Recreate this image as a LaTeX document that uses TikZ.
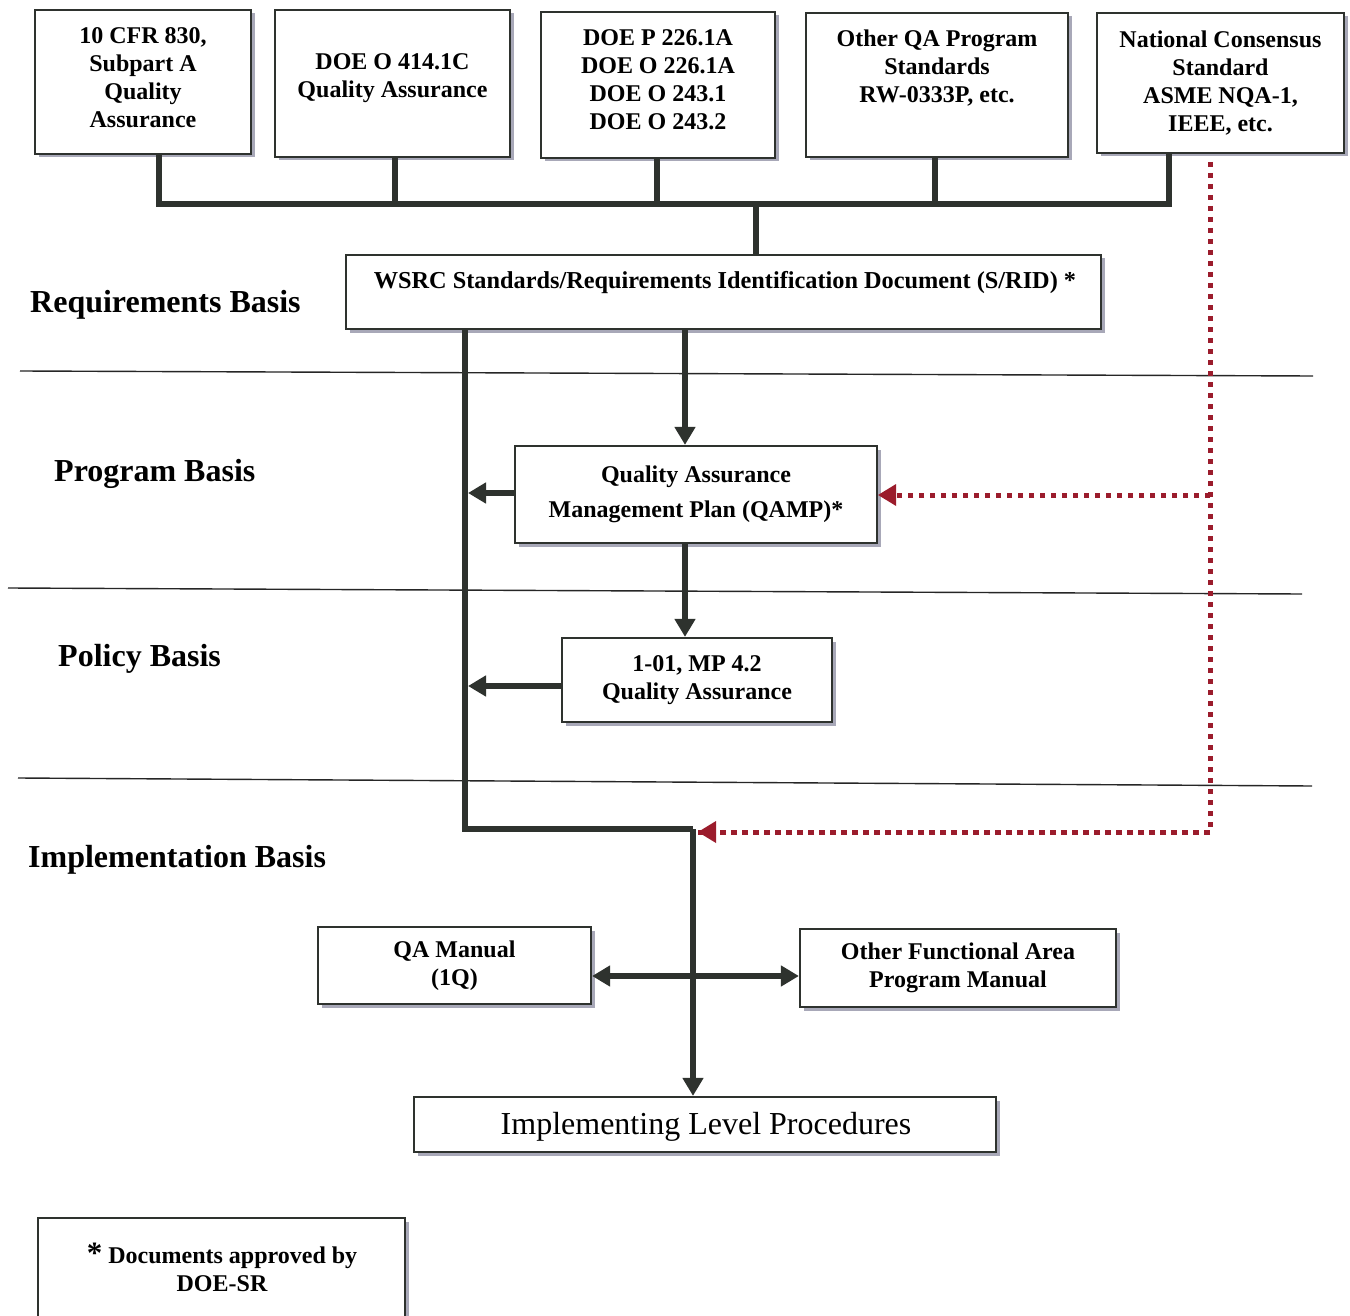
\documentclass[tikz,border=0pt]{standalone}
\usepackage{fontspec}
\setmainfont{Liberation Serif}
\usetikzlibrary{arrows.meta,shadows}
\definecolor{ln}{HTML}{2E322E}
\definecolor{dred}{HTML}{9B1C2C}
\definecolor{shd}{HTML}{A8A8B8}
\tikzset{
  box/.style={draw=ln, line width=2.2pt, fill=white, inner sep=0pt, align=center,
    font=\fontsize{24}{28}\selectfont\bfseries,
    drop shadow={shadow xshift=3.5pt, shadow yshift=-3.5pt, fill=shd, opacity=1}},
  txt/.style={inner sep=0pt, align=center, font=\fontsize{24}{28}\selectfont\bfseries},
  sect/.style={anchor=west, inner sep=0pt, font=\fontsize{32}{36}\selectfont\bfseries},
  wire/.style={draw=ln, line width=6pt, line join=miter},
  arr/.style={wire, -{Triangle[length=18pt,width=20pt]}},
  darr/.style={wire, {Triangle[length=18pt,width=20pt]}-{Triangle[length=18pt,width=20pt]}},
  sep/.style={draw=black!85, line width=1.4pt},
  rdot/.style={draw=dred, line width=5pt, dash pattern=on 5pt off 6pt},
  rarr/.style={rdot, -{Triangle[length=18pt,width=22pt,fill=dred,line width=0pt]}},
}
\begin{document}
\begin{tikzpicture}[x=1pt,y=-1pt]
\useasboundingbox (0,0) rectangle (1350,1316);
\fill[white] (0,0) rectangle (1350,1316);

% top row boxes
\node[box, minimum width=216, minimum height=144] (b1) at (143,82) {};
\node[txt] (t1) at (143,78) {10 CFR 830,\\Subpart A\\Quality\\Assurance};
\node[box, minimum width=235, minimum height=147] (b2) at (392.5,83.5) {};
\node[txt] (t2) at (392.5,78) {DOE O 414.1C\\Quality Assurance};
\node[box, minimum width=234, minimum height=146] (b3) at (658,85) {};
\node[txt] (t3) at (658,79.5) {DOE P 226.1A\\DOE O 226.1A\\DOE O 243.1\\DOE O 243.2};
\node[box, minimum width=262, minimum height=144] (b4) at (937,85) {};
\node[txt] (t4) at (937,68) {Other QA Program\\Standards\\RW-0333P, etc.};
\node[box, minimum width=247, minimum height=140] (b5) at (1220.5,83) {};
\node[txt] (t5) at (1220.5,83) {National Consensus\\Standard\\ASME NQA-1,\\IEEE, etc.};

% S/RID
\node[box, minimum width=755, minimum height=74] (srid) at (723.5,292) {};
\node[txt, font=\fontsize{24.3}{28}\selectfont\bfseries] (tsrid) at (725,283) {WSRC Standards/Requirements Identification Document (S/RID) *};

% QAMP and policy
\node[box, minimum width=362, minimum height=97, font=\fontsize{24}{35}\selectfont\bfseries] (qamp) at (696,494.5) {Quality Assurance\\Management Plan (QAMP)*};
\node[box, minimum width=270, minimum height=84] (pol) at (697,680) {1-01, MP 4.2\\Quality Assurance};

% lower boxes
\node[box, minimum width=273, minimum height=77] (qam) at (454.5,965.5) {QA Manual\\(1Q)};
\node[box, minimum width=316, minimum height=78] (ofa) at (958,968) {Other Functional Area\\Program Manual};
\node[box, minimum width=582, minimum height=55] (impl) at (705,1124.5) {};
\node[inner sep=0pt, font=\fontsize{32}{36}\selectfont] (timpl) at (706,1127) {Implementing Level Procedures};
\node[box, minimum width=367, minimum height=100] (note) at (221.5,1268) {};
\node[txt] (tnote) at (222,1267) {{\fontsize{31}{28}\selectfont *} Documents approved by\\DOE-SR};

% section labels
\node[sect] (lreq) at (30,305) {Requirements Basis};
\node[sect] (lprog) at (54,474) {Program Basis};
\node[sect] (lpol) at (58,659) {Policy Basis};
\node[sect] (limp) at (28,860) {Implementation Basis};

% separators
\draw[sep] (20,371) -- (1313,376);
\draw[sep] (8,588) -- (1302,594);
\draw[sep] (18,778) -- (1312,786);

% bus
\coordinate (s1) at (159,204);
\coordinate (s2) at (395,204);
\coordinate (s3) at (657,204);
\coordinate (s4) at (935,204);
\coordinate (s5) at (1169,204);
\coordinate (sm) at (756,204);
\draw[wire] (b1.south -| s1) -- (s1) -- (s5) -- (b5.south -| s5);
\draw[wire] (b2.south -| s2) -- (s2);
\draw[wire] (b3.south -| s3) -- (s3);
\draw[wire] (b4.south -| s4) -- (s4);
\draw[wire] (sm) -- (srid.north -| sm);

% main spine
\coordinate (L) at (465,829);
\coordinate (J) at (693,829);
\coordinate (ax) at (685,0);
\draw[wire] (srid.south -| L) -- (L) -- (J);
\draw[arr] (J) -- (impl.north -| J);
\draw[arr] (srid.south -| ax) -- (qamp.north -| ax);
\draw[arr] (qamp.south -| ax) -- (pol.north -| ax);
\coordinate (qy) at (468,493);
\coordinate (py) at (468,686);
\draw[arr] (qamp.west |- qy) -- (qy);
\draw[arr] (pol.west |- py) -- (py);
\coordinate (hy) at (0,976);
\draw[darr] (qam.east |- hy) -- (ofa.west |- hy);

% red dotted
\coordinate (r0) at (1210,162);
\coordinate (r1) at (1210,832);
\coordinate (r2) at (1210,495);
\coordinate (rj) at (698,832);
\draw[rdot] (r0) -- (r1) -- (rj |- r1);
\draw[rarr] (r1) -- (rj);
\draw[rarr] (r2) -- (qamp.east |- r2);
\end{tikzpicture}
\end{document}
